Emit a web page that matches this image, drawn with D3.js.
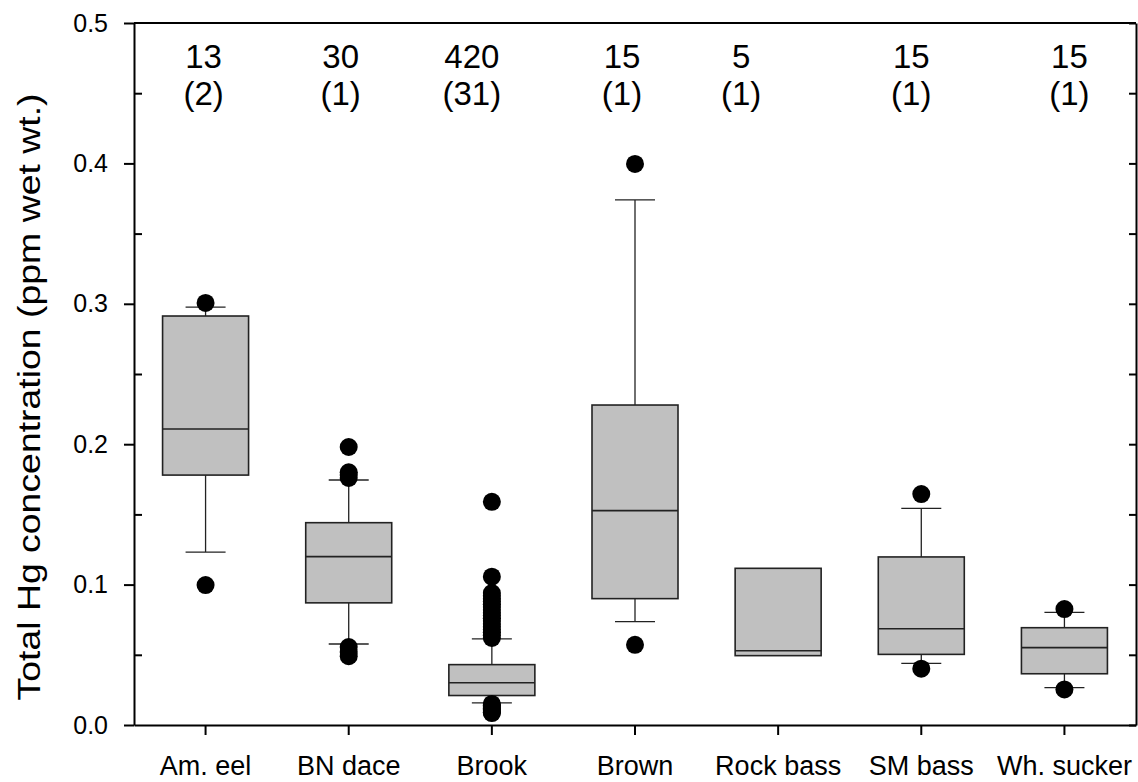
<!DOCTYPE html>
<html>
<head>
<meta charset="utf-8">
<script src="https://cdn.jsdelivr.net/npm/d3@7"></script>
<style>
  body { margin: 0; background: #fff; }
  svg { display: block; font-family: "Liberation Sans", Arial, sans-serif; }
  .axis path, .axis line { stroke: #000; stroke-width: 2; }
</style>
</head>
<body>
<div id="chart"></div>
<script>
var categories = ["Am. eel", "BN dace", "Brook", "Brown", "Rock bass", "SM bass", "Wh. sucker"];
var fishCount = ["13", "30", "420", "15", "5", "15", "15"];
var siteCount = ["(2)", "(1)", "(31)", "(1)", "(1)", "(1)", "(1)"];

var q1 = [0.178, 0.087, 0.021, 0.090, 0.0494, 0.0503, 0.0365];
var median = [0.2108, 0.1199, 0.0301, 0.1527, 0.0529, 0.0686, 0.0551];
var q3 = [0.2913, 0.1441, 0.043, 0.2279, 0.1116, 0.1197, 0.0693];
var whiskerLow = [0.1232, 0.0577, 0.0157, 0.0736, null, 0.0439, 0.0266];
var whiskerHigh = [0.2977, 0.1745, 0.0613, 0.374, null, 0.1543, 0.0802];

var outliers = [
    [0.3006, 0.0997],
    [0.198, 0.180, 0.178, 0.176, 0.0555, 0.052, 0.049],
    [0.159, 0.1056, 0.094, 0.092, 0.090, 0.088, 0.086, 0.084, 0.082, 0.080, 0.078,
     0.076, 0.074, 0.072, 0.070, 0.068, 0.066, 0.064, 0.062,
     0.015, 0.014, 0.013, 0.012, 0.011, 0.010, 0.009, 0.0085],
    [0.3996, 0.0571],
    [],
    [0.1645, 0.0401],
    [0.0826, 0.0253]
];

var yTicks = [0, 0.1, 0.2, 0.3, 0.4, 0.5];
var yMinorTicks = [0.05, 0.15, 0.25, 0.35, 0.45];

// the count labels in the original are nudged off centre by hand
var noteShift = [-2, -8, -20, -13, -37, -10, 5];

var width = 1138, height = 782;
var margin = {top: 23, right: 2, bottom: 57, left: 134};

var svg = d3.select("#chart")
    .append("svg")
    .attr("width", width)
    .attr("height", height);

var x = d3.scaleBand()
    .domain(categories)
    .range([margin.left, width - margin.right])
    .padding(0);

var y = d3.scaleLinear()
    .domain([0, 0.5])
    .range([height - margin.bottom, margin.top]);

var boxW = 86, capW = 40;
var cx = function(i) { return x(categories[i]) + x.bandwidth() / 2; };

var rows = categories.map(function(c, i) {
    return {i: i, q1: q1[i], med: median[i], q3: q3[i], lo: whiskerLow[i], hi: whiskerHigh[i]};
});

var g = svg.append("g").attr("class", "boxes");

// whiskers
rows.filter(function(d) { return d.lo != null; }).forEach(function(d) {
    var wg = g.append("g")
        .attr("stroke", "#222")
        .attr("stroke-width", 1.3);
    wg.append("line")
        .attr("x1", cx(d.i)).attr("x2", cx(d.i))
        .attr("y1", y(d.q3)).attr("y2", y(d.hi));
    wg.append("line")
        .attr("x1", cx(d.i)).attr("x2", cx(d.i))
        .attr("y1", y(d.q1)).attr("y2", y(d.lo));
    wg.append("line")
        .attr("x1", cx(d.i) - capW / 2).attr("x2", cx(d.i) + capW / 2)
        .attr("y1", y(d.hi)).attr("y2", y(d.hi));
    wg.append("line")
        .attr("x1", cx(d.i) - capW / 2).attr("x2", cx(d.i) + capW / 2)
        .attr("y1", y(d.lo)).attr("y2", y(d.lo));
});

g.selectAll("rect.box")
    .data(rows)
    .enter()
    .append("rect")
    .attr("class", "box")
    .attr("x", function(d) { return cx(d.i) - boxW / 2; })
    .attr("y", function(d) { return y(d.q3); })
    .attr("width", boxW)
    .attr("height", function(d) { return y(d.q1) - y(d.q3); })
    .attr("fill", "#c0c0c0")
    .attr("stroke", "#222")
    .attr("stroke-width", 1.6);

g.selectAll("line.median")
    .data(rows)
    .enter()
    .append("line")
    .attr("class", "median")
    .attr("x1", function(d) { return cx(d.i) - boxW / 2; })
    .attr("x2", function(d) { return cx(d.i) + boxW / 2; })
    .attr("y1", function(d) { return y(d.med); })
    .attr("y2", function(d) { return y(d.med); })
    .attr("stroke", "#222")
    .attr("stroke-width", 1.6);

// outlier dots
var dots = [];
outliers.forEach(function(list, i) {
    list.forEach(function(v) { dots.push({i: i, v: v}); });
});
g.selectAll("circle.outlier")
    .data(dots)
    .enter()
    .append("circle")
    .attr("class", "outlier")
    .attr("cx", function(d) { return cx(d.i); })
    .attr("cy", function(d) { return y(d.v); })
    .attr("r", 9)
    .attr("fill", "#000");

// axes
var plotBottom = height - margin.bottom;
var plotRight = width - margin.right;

svg.append("g")
    .attr("class", "axis")
    .attr("transform", "translate(" + margin.left + ",0)")
    .call(d3.axisLeft(y)
        .tickValues(yTicks)
        .tickFormat(d3.format(".1f"))
        .tickSize(10)
        .tickSizeOuter(0)
        .tickPadding(16))
    .call(function(s) {
        s.selectAll("text").attr("font-size", 25).attr("fill", "#000").attr("font-family", null);
    });

svg.append("g")
    .attr("class", "axis")
    .attr("transform", "translate(" + margin.left + ",0)")
    .call(d3.axisLeft(y).tickValues(yMinorTicks).tickSize(-8).tickFormat(""))
    .call(function(s) { s.select(".domain").remove(); });

svg.append("g")
    .attr("class", "axis")
    .attr("transform", "translate(" + plotRight + ",0)")
    .call(d3.axisRight(y).tickValues(yTicks.concat(yMinorTicks)).tickSize(-7).tickSizeOuter(0).tickFormat(""));

svg.append("g")
    .attr("class", "axis")
    .attr("transform", "translate(0," + plotBottom + ")")
    .call(d3.axisBottom(x).tickSize(10).tickSizeOuter(0).tickPadding(21))
    .call(function(s) {
        s.selectAll("text").attr("font-size", 27).attr("fill", "#000").attr("font-family", null);
    });

svg.append("line")
    .attr("x1", margin.left).attr("x2", plotRight)
    .attr("y1", margin.top).attr("y2", margin.top)
    .attr("stroke", "#000")
    .attr("stroke-width", 2);

// sample counts above the boxes
svg.selectAll("text.nfish")
    .data(fishCount)
    .enter()
    .append("text")
    .attr("class", "nfish")
    .attr("x", function(d, i) { return cx(i) + noteShift[i]; })
    .attr("y", 68)
    .attr("text-anchor", "middle")
    .attr("font-size", 33)
    .text(function(d) { return d; });

svg.selectAll("text.nsite")
    .data(siteCount)
    .enter()
    .append("text")
    .attr("class", "nsite")
    .attr("x", function(d, i) { return cx(i) + noteShift[i]; })
    .attr("y", 105)
    .attr("text-anchor", "middle")
    .attr("font-size", 33)
    .text(function(d) { return d; });

svg.append("text")
    .attr("transform", "translate(40,397) rotate(-90)")
    .attr("text-anchor", "middle")
    .attr("font-size", 31)
    .attr("textLength", 607)
    .attr("lengthAdjust", "spacingAndGlyphs")
    .text("Total Hg concentration (ppm wet wt.)");
</script>
</body>
</html>
